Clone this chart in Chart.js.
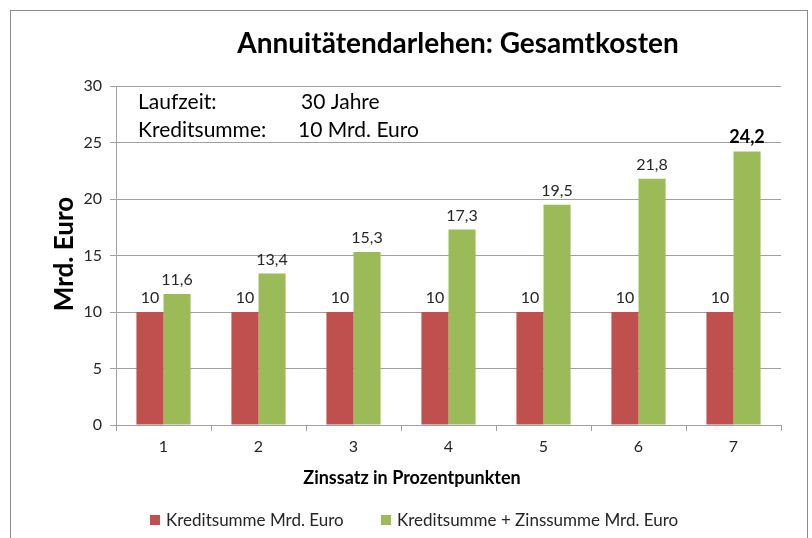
<!DOCTYPE html>
<html>
<head>
<meta charset="utf-8">
<script src="https://cdn.jsdelivr.net/npm/chart.js@4.4.0/dist/chart.umd.min.js"></script>
<style>
  html, body { margin: 0; padding: 0; background: #fff; }
  #wrap { width: 812px; height: 538px; position: relative; }
</style>
</head>
<body>
<div id="wrap"><canvas id="chart" width="812" height="538"></canvas></div>
<script>
var labels = ['1', '2', '3', '4', '5', '6', '7'];
var kredit = [10, 10, 10, 10, 10, 10, 10];
var gesamt = [11.6, 13.4, 15.3, 17.3, 19.5, 21.8, 24.2];
var seriesNames = ['Kreditsumme Mrd. Euro', 'Kreditsumme + Zinssumme Mrd. Euro'];
var colors = ['#C0504D', '#9BBB59'];
var yTicks = [0, 5, 10, 15, 20, 25, 30];

var FONT = 'Lato, "Open Sans", sans-serif';

// frame, titles, notes and value labels
var extras = {
    id: 'extras',
    beforeDraw: function(chart) {
        var ctx = chart.ctx;
        ctx.save();
        ctx.fillStyle = '#fff';
        ctx.fillRect(0, 0, chart.width, chart.height);
        ctx.strokeStyle = '#8c8c8c';
        ctx.lineWidth = 1;
        ctx.strokeRect(10.5, 10.5, 797, 540);
        ctx.restore();
    },
    afterDatasetsDraw: function(chart) {
        var ctx = chart.ctx;
        ctx.save();
        ctx.fillStyle = '#000';
        ctx.textAlign = 'center';
        ctx.textBaseline = 'middle';
        ctx.font = 'bold 28px ' + FONT;
        ctx.fillText('Annuitätendarlehen: Gesamtkosten', 458, 44);

        ctx.font = 'bold 18px ' + FONT;
        ctx.fillText('Zinssatz in Prozentpunkten', 412, 478);

        ctx.save();
        ctx.translate(65, 254);
        ctx.rotate(-Math.PI / 2);
        ctx.font = 'bold 26px ' + FONT;
        ctx.fillText('Mrd. Euro', 0, 0);
        ctx.restore();

        ctx.textAlign = 'left';
        ctx.font = '21px ' + FONT;
        ctx.fillText('Laufzeit:', 138, 102);
        ctx.fillText('30 Jahre', 301, 102);
        ctx.fillText('Kreditsumme:', 138, 130);
        ctx.fillText('10 Mrd. Euro', 298, 130);

        // value labels
        ctx.textAlign = 'center';
        chart.data.datasets.forEach(function(ds, di) {
            var meta = chart.getDatasetMeta(di);
            meta.data.forEach(function(bar, i) {
                var last = di == 1 && i == ds.data.length - 1;
                ctx.font = (last ? 'bold 18px ' : '16px ') + FONT;
                ctx.fillStyle = last ? '#000' : '#262626';
                ctx.fillText(String(ds.data[i]).replace('.', ','), bar.x, bar.y - 14);
            });
        });

        // legend
        ctx.textAlign = 'left';
        ctx.font = '17px ' + FONT;
        var lx = [150, 381];
        seriesNames.forEach(function(n, k) {
            ctx.fillStyle = colors[k];
            ctx.fillRect(lx[k], 515, 10, 10);
            ctx.fillStyle = '#262626';
            ctx.fillText(n, lx[k] + 16, 521);
        });
        ctx.restore();
    }
};

var ctx = document.getElementById('chart').getContext('2d');
var chart = new Chart(ctx, {
    type: 'bar',
    data: {
        labels: labels,
        datasets: [
            { label: seriesNames[0], data: kredit, backgroundColor: colors[0] },
            { label: seriesNames[1], data: gesamt, backgroundColor: colors[1] }
        ]
    },
    plugins: [extras],
    options: {
        responsive: false,
        animation: false,
        layout: { padding: { left: 0, top: 86, right: 31, bottom: 0 } },
        datasets: {
            bar: { categoryPercentage: 0.57, barPercentage: 1.0 }
        },
        plugins: {
            legend: { display: false },
            title: { display: false },
            tooltip: { enabled: false }
        },
        scales: {
            x: {
                afterFit: function(scale) { scale.height = 113; },
                grid: { display: true, drawOnChartArea: false, offset: true, color: '#a0a0a0', tickLength: 6 },
                border: { color: '#a0a0a0' },
                ticks: { color: '#262626', font: { family: FONT, size: 16 }, padding: 6 }
            },
            y: {
                min: 0,
                max: 30,
                afterFit: function(scale) { scale.width = 116; },
                afterBuildTicks: function(scale) {
                    scale.ticks = yTicks.map(function(v) { return { value: v }; });
                },
                grid: { color: '#a0a0a0', tickLength: 6 },
                border: { color: '#a0a0a0' },
                ticks: { color: '#262626', font: { family: FONT, size: 16 }, padding: 8 }
            }
        }
    }
});
</script>
</body>
</html>
